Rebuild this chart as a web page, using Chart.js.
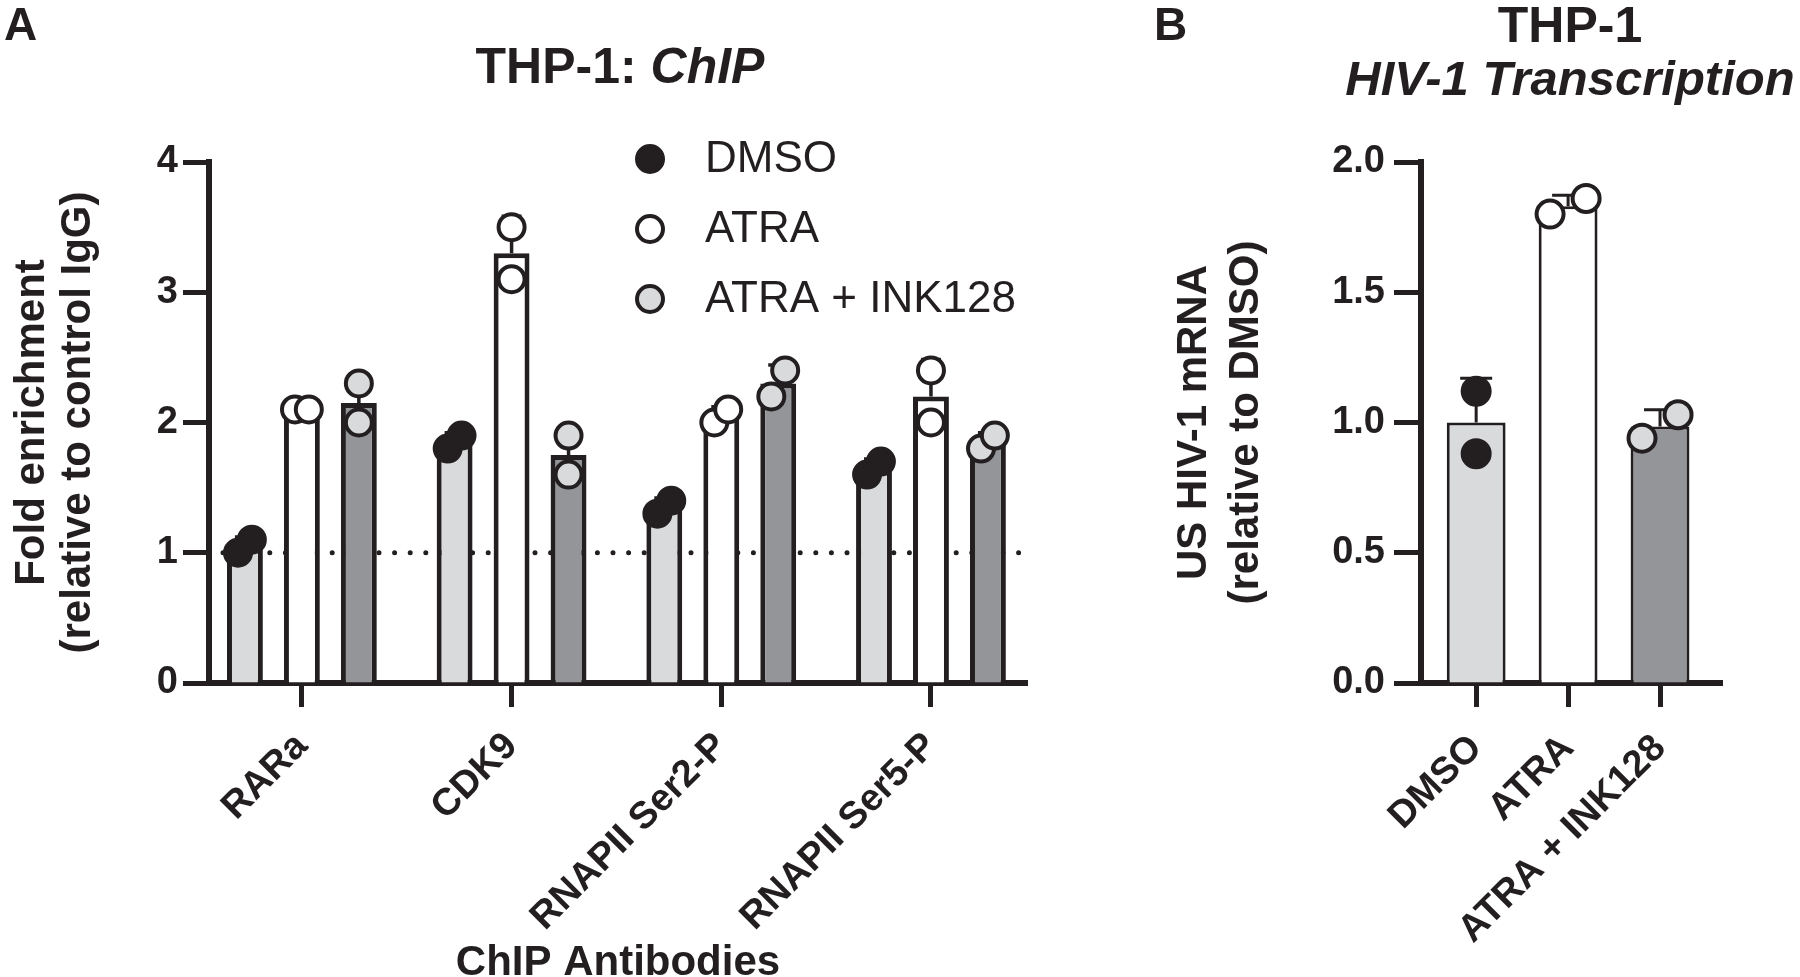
<!DOCTYPE html>
<html>
<head>
<meta charset="utf-8">
<title>THP-1 ChIP and HIV-1 transcription</title>
<script src="https://cdn.jsdelivr.net/npm/chart.js@4.4.1/dist/chart.umd.min.js"></script>
<style>
  html, body { margin: 0; padding: 0; background: #fff; }
  #wrap { position: relative; width: 1800px; height: 977px; }
  #chipChart { position: absolute; left: 0; top: 0; }
  #hivChart { position: absolute; left: 1150px; top: 0; }
</style>
</head>
<body>
<div id="wrap">
  <canvas id="chipChart" width="1150" height="977"></canvas>
  <canvas id="hivChart" width="650" height="977"></canvas>
</div>
<script>
// --- data (two replicates per bar) ---
const chipAntibodies = ['RARa', 'CDK9', 'RNAPII Ser2-P', 'RNAPII Ser5-P'];
const treatments = ['DMSO', 'ATRA', 'ATRA + INK128'];
const chipDMSO   = [[1.0, 1.1], [1.8, 1.9], [1.3, 1.4], [1.6, 1.7]];
const chipATRA   = [[2.1, 2.1], [3.5, 3.1], [2.0, 2.1], [2.4, 2.0]];
const chipINK128 = [[2.3, 2.0], [1.9, 1.6], [2.2, 2.4], [1.8, 1.9]];
const chipTicks  = [0, 1, 2, 3, 4];

const hivLabels = ['DMSO', 'ATRA', 'ATRA + INK128'];
const hivReplicates = [[1.12, 0.88], [1.80, 1.86], [0.94, 1.03]];
const hivTicks = [0, 0.5, 1.0, 1.5, 2.0];

// --- look ---
const FONT = '"Liberation Sans", Arial, Helvetica, sans-serif';
const INK = '#231f20';
const LIGHT = '#d9dadb';
const DARK = '#939598';
const barFill = [LIGHT, '#ffffff', DARK];
const dotFill = [INK, '#ffffff', LIGHT];

Chart.defaults.font.family = FONT;
Chart.defaults.color = INK;

function mean(a) { return a.reduce((s, v) => s + v, 0) / a.length; }
function sd(a) {
  const m = mean(a);
  return Math.sqrt(a.reduce((s, v) => s + (v - m) * (v - m), 0) / (a.length - 1));
}
// replicates that would sit on top of each other are nudged apart, lower one to the left
function spread(reps, centre, closeGap, shift) {
  if (Math.abs(reps[0] - reps[1]) >= closeGap) return reps.map(v => ({ x: centre, y: v }));
  const side = reps[0] <= reps[1] ? [-1, 1] : [1, -1];
  return reps.map((v, k) => ({ x: centre + side[k] * shift, y: v }));
}

const bold = size => ({ family: FONT, size: size, weight: 'bold' });

// upward SD bar on top of each bar
function errorBars(width, cap) {
  return {
    id: 'errorBars',
    afterDatasetDraw(chart, args) {
      const ds = chart.data.datasets[args.index];
      if (!ds.errorPlus) return;
      const ctx = chart.ctx, y = chart.scales.y;
      ctx.save();
      ctx.strokeStyle = INK;
      ctx.lineWidth = width;
      args.meta.data.forEach((bar, i) => {
        const top = y.getPixelForValue(ds.data[i].y + ds.errorPlus[i]);
        ctx.beginPath();
        ctx.moveTo(bar.x, bar.y);
        ctx.lineTo(bar.x, top);
        ctx.moveTo(bar.x - cap, top);
        ctx.lineTo(bar.x + cap, top);
        ctx.stroke();
      });
      ctx.restore();
    }
  };
}

// dotted baseline behind the bars
function referenceLine(value, insetLeft, insetRight) {
  return {
    id: 'referenceLine',
    beforeDatasetsDraw(chart) {
      const { ctx, chartArea } = chart;
      const y = chart.scales.y.getPixelForValue(value);
      ctx.save();
      ctx.strokeStyle = INK;
      ctx.lineWidth = 5;
      ctx.lineCap = 'round';
      ctx.setLineDash([0, 15.6]);
      ctx.beginPath();
      ctx.moveTo(chartArea.left + insetLeft, y);
      ctx.lineTo(chartArea.right - insetRight, y);
      ctx.stroke();
      ctx.restore();
    }
  };
}

// legend stacked in the top right of panel A
function dotLegend(markX, textX, top, step) {
  return {
    id: 'dotLegend',
    afterDraw(chart) {
      const ctx = chart.ctx;
      const sets = chart.data.datasets.filter(d => d.type === 'scatter');
      ctx.save();
      ctx.font = '44px ' + FONT;
      ctx.textBaseline = 'middle';
      sets.forEach((d, k) => {
        const y = top + k * step;
        ctx.beginPath();
        ctx.arc(markX, y, d.pointRadius, 0, Math.PI * 2);
        ctx.fillStyle = d.pointBackgroundColor;
        ctx.fill();
        ctx.lineWidth = d.pointBorderWidth;
        ctx.strokeStyle = INK;
        ctx.stroke();
        ctx.fillStyle = INK;
        ctx.fillText(d.label, textX, y + 1);
      });
      ctx.restore();
    }
  };
}

// panel letter + title lines (mixed upright / italic)
function panelTitle(letter, centreX, lines) {
  return {
    id: 'panelTitle',
    afterDraw(chart) {
      const ctx = chart.ctx;
      ctx.save();
      ctx.fillStyle = INK;
      ctx.textBaseline = 'alphabetic';
      ctx.textAlign = 'left';
      ctx.font = 'bold 46px ' + FONT;
      ctx.fillText(letter, 4, 40);
      lines.forEach(line => {
        const fonts = line.parts.map(p => (p.italic ? 'italic ' : '') + 'bold ' + line.size + 'px ' + FONT);
        const widths = line.parts.map((p, k) => { ctx.font = fonts[k]; return ctx.measureText(p.text).width; });
        let x = centreX - widths.reduce((a, b) => a + b, 0) / 2;
        line.parts.forEach((p, k) => {
          ctx.font = fonts[k];
          ctx.fillText(p.text, x, line.y);
          x += widths[k];
        });
      });
      ctx.restore();
    }
  };
}

// ---------- panel A ----------
const chipCat = 0.815, chipBar = 0.63;
const chipReps = [chipDMSO, chipATRA, chipINK128];

const chipBars = chipReps.map((reps, j) => ({
  type: 'bar',
  label: treatments[j],
  data: reps.map((r, i) => ({ x: i, y: mean(r) })),
  errorPlus: reps.map(sd),
  backgroundColor: barFill[j],
  borderColor: INK,
  borderWidth: 5,
  categoryPercentage: chipCat,
  barPercentage: chipBar,
  order: 2
}));

const chipDots = chipReps.map((reps, j) => ({
  type: 'scatter',
  label: treatments[j],
  data: reps.flatMap((r, i) => spread(r, i + (j - 1) * chipCat / 3, 0.25, 0.033)),
  pointRadius: 13,
  pointBorderWidth: 4,
  pointBackgroundColor: dotFill[j],
  pointBorderColor: INK,
  clip: false,
  order: 0
}));

new Chart(document.getElementById('chipChart'), {
  type: 'bar',
  data: { datasets: [...chipDots, ...chipBars] },
  options: {
    responsive: false,
    animation: false,
    layout: { padding: { top: 162, right: 123, bottom: 0, left: 0 } },
    plugins: { legend: { display: false }, tooltip: { enabled: false } },
    scales: {
      x: {
        type: 'linear',
        min: -0.443,
        max: 3.458,
        offset: false,
        afterBuildTicks: s => { s.ticks = chipAntibodies.map((_, i) => ({ value: i })); },
        afterFit: s => { s.height = 977 - 683; },
        ticks: {
          callback: v => chipAntibodies[Math.round(v)],
          minRotation: 45, maxRotation: 45, autoSkip: false,
          padding: 17, color: INK, font: bold(38)
        },
        grid: { offset: false, drawOnChartArea: false, tickLength: 24, tickWidth: 5, tickColor: INK },
        border: { display: true, color: INK, width: 6 },
        title: {
          display: true, text: 'ChIP Antibodies', color: INK,
          font: { family: FONT, size: 42, weight: 'bold', lineHeight: 1 },
          padding: { top: 0, bottom: -7 }
        }
      },
      y: {
        min: 0,
        max: 4,
        afterBuildTicks: s => { s.ticks = chipTicks.map(v => ({ value: v })); },
        afterFit: s => { s.width = 209; },
        ticks: { padding: 5, color: INK, font: bold(38) },
        grid: { drawOnChartArea: false, tickLength: 26, tickWidth: 5, tickColor: INK },
        border: { display: true, color: INK, width: 6 },
        title: {
          display: true,
          text: ['Fold enrichment', '(relative to control IgG)'],
          color: INK,
          font: { family: FONT, size: 42, weight: 'bold', lineHeight: 1.1 },
          padding: { top: 9, bottom: 0 }
        }
      }
    }
  },
  plugins: [
    referenceLine(1, 14, 5),
    errorBars(3.5, 10),
    dotLegend(650, 705, 159, 70),
    panelTitle('A', 620, [
      { y: 83, size: 50, parts: [{ text: 'THP-1: ' }, { text: 'ChIP', italic: true }] }
    ])
  ]
});

// ---------- panel B ----------
const hivDots = {
  type: 'scatter',
  label: 'replicates',
  data: hivReplicates.flatMap((r, i) => spread(r, i, 0.15, 0.196)),
  pointRadius: 13.5,
  pointBorderWidth: 4,
  pointBackgroundColor: hivReplicates.flatMap((r, i) => r.map(() => dotFill[i])),
  pointBorderColor: INK,
  clip: false,
  order: 0
};

const hivBars = {
  type: 'bar',
  label: 'mean',
  data: hivReplicates.map((r, i) => ({ x: i, y: mean(r) })),
  errorPlus: hivReplicates.map(sd),
  backgroundColor: barFill,
  borderColor: INK,
  borderWidth: 3,
  categoryPercentage: 1,
  barPercentage: 0.64,
  order: 2
};

new Chart(document.getElementById('hivChart'), {
  type: 'bar',
  data: { datasets: [hivDots, hivBars] },
  options: {
    responsive: false,
    animation: false,
    layout: { padding: { top: 162, right: 78, bottom: 0, left: 0 } },
    plugins: { legend: { display: false }, tooltip: { enabled: false } },
    scales: {
      x: {
        type: 'linear',
        min: -0.6,
        max: 2.674,
        offset: false,
        afterBuildTicks: s => { s.ticks = hivLabels.map((_, i) => ({ value: i })); },
        afterFit: s => { s.height = 977 - 683; },
        ticks: {
          callback: v => hivLabels[Math.round(v)],
          minRotation: 45, maxRotation: 45, autoSkip: false,
          padding: 19, color: INK, font: bold(38)
        },
        grid: { offset: false, drawOnChartArea: false, tickLength: 24, tickWidth: 5, tickColor: INK },
        border: { display: true, color: INK, width: 6 }
      },
      y: {
        min: 0,
        max: 2,
        afterBuildTicks: s => { s.ticks = hivTicks.map(v => ({ value: v })); },
        afterFit: s => { s.width = 271; },
        ticks: { padding: 9, color: INK, font: bold(38), callback: v => v.toFixed(1) },
        grid: { drawOnChartArea: false, tickLength: 27, tickWidth: 5, tickColor: INK },
        border: { display: true, color: INK, width: 6 },
        title: {
          display: true,
          text: ['US HIV-1 mRNA', '(relative to DMSO)'],
          color: INK,
          font: { family: FONT, size: 42, weight: 'bold', lineHeight: 1.24 },
          padding: { top: 18, bottom: 0 }
        }
      }
    }
  },
  plugins: [
    errorBars(3, 16),
    panelTitle('B', 420, [
      { y: 42, size: 50, parts: [{ text: 'THP-1' }] },
      { y: 95, size: 49, parts: [{ text: 'HIV-1 Transcription', italic: true }] }
    ])
  ]
});
</script>
</body>
</html>
